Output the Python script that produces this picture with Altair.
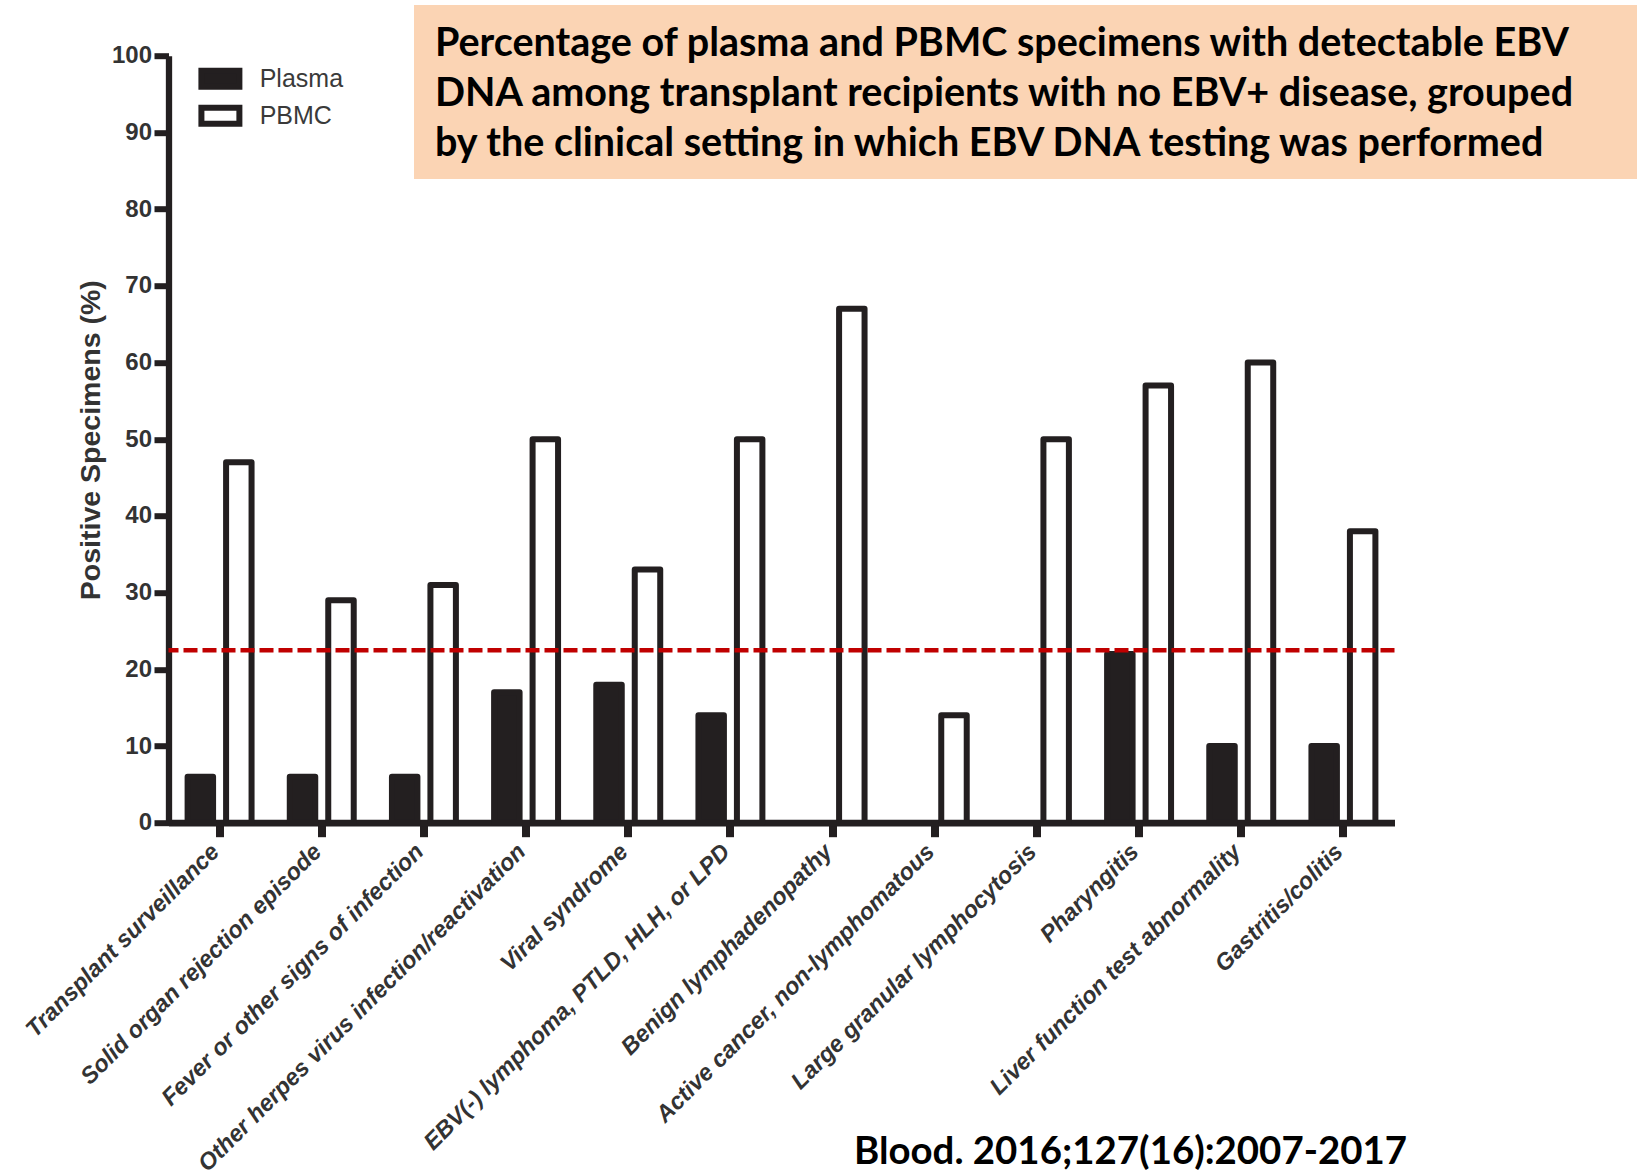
import altair as alt
import pandas as pd

# Clinical settings (x categories) and percentage of positive specimens
categories = [
    "Transplant surveillance",
    "Solid organ rejection episode",
    "Fever or other signs of infection",
    "Other herpes virus infection/reactivation",
    "Viral syndrome",
    "EBV(-) lymphoma, PTLD, HLH, or LPD",
    "Benign lymphadenopathy",
    "Active cancer, non-lymphomatous",
    "Large granular lymphocytosis",
    "Pharyngitis",
    "Liver function test abnormality",
    "Gastritis/colitis",
]
plasma = [6, 6, 6, 17, 18, 14, 0, 0, 0, 22, 10, 10]
pbmc = [47, 29, 31, 50, 33, 50, 67, 14, 50, 57, 60, 38]
series = ["Plasma", "PBMC"]
y_ticks = [0, 10, 20, 30, 40, 50, 60, 70, 80, 90, 100]
reference_level = [22.5]

title_text = (
    "Percentage of plasma and PBMC specimens with detectable EBV\n"
    "DNA among transplant recipients with no EBV+ disease, grouped\n"
    "by the clinical setting in which EBV DNA testing was performed"
)
citation = "Blood. 2016;127(16):2007-2017"

INK = "#231f20"
LABEL = "#333333"
W, H = 1226, 767
PAD_L, PAD_T = 168.5, 55.7

rows = []
for cat, p, b in zip(categories, plasma, pbmc):
    rows.append({"category": cat, "series": "Plasma", "value": p})
    rows.append({"category": cat, "series": "PBMC", "value": b})
df = pd.DataFrame(rows)

y_axis = alt.Axis(
    values=y_ticks,
    title="Positive Specimens (%)",
    titleFont="Liberation Sans",
    titleFontSize=28.5,
    titleFontWeight="bold",
    titleColor=LABEL,
    titleAngle=270,
    titleAlign="center",
    titleBaseline="alphabetic",
    titleX=-69.5,
    titleY=384,
    labelFont="Liberation Sans",
    labelFontSize=24,
    labelFontWeight="bold",
    labelColor=LABEL,
    labelPadding=2.5,
    tickSize=14.5,
    tickWidth=6,
    tickColor=INK,
    domainColor=INK,
    domainWidth=6.3,
    grid=False,
)
y_scale = alt.Scale(domain=[0, 100], nice=False)

bars = (
    alt.Chart(df)
    .transform_filter("datum.value > 0")
    .mark_bar(stroke=INK, strokeWidth=6, strokeJoin="round")
    .encode(
        x=alt.X(
            "category:N",
            sort=categories,
            scale=alt.Scale(paddingInner=0.374, paddingOuter=0.187),
            axis=alt.Axis(
                title=None,
                labelAngle=-45,
                labelAlign="right",
                labelBaseline="middle",
                labelFont="Liberation Sans",
                labelFontSize=23.5,
                labelFontWeight="bold",
                labelFontStyle="italic",
                labelColor=LABEL,
                labelLimit=0,
                labelOverlap=False,
                labelPadding=11,
                labelOffset=-4,
                tickSize=14,
                tickWidth=8,
                tickColor=INK,
                domainColor=INK,
                domainWidth=6.7,
                grid=False,
            ),
        ),
        xOffset=alt.XOffset(
            "series:N",
            sort=series,
            scale=alt.Scale(domain=series, paddingInner=0.338, paddingOuter=0),
        ),
        y=alt.Y("value:Q", scale=y_scale, axis=y_axis),
        fill=alt.Fill(
            "series:N",
            scale=alt.Scale(domain=series, range=[INK, "white"]),
            legend=alt.Legend(
                title=None,
                orient="none",
                legendX=35.9,
                legendY=7,
                padding=0,
                symbolType="M-1.5,-0.632H1.5V0.632H-1.5Z",
                symbolSize=641,
                symbolStrokeColor=INK,
                symbolStrokeWidth=6,
                symbolOffset=0,
                labelFont="Liberation Sans",
                labelFontSize=25,
                labelColor="#3a3a3a",
                labelOffset=23.3,
                rowPadding=-5.5,
            ),
        ),
    )
)

# Dashed reference level drawn across the whole plot
rule = (
    alt.Chart(pd.DataFrame({"value": reference_level}))
    .mark_rule(color="#C00000", strokeWidth=4.5, strokeDash=[14, 5], strokeCap="butt")
    .encode(y=alt.Y("value:Q", scale=y_scale, axis=y_axis))
)

box = (
    alt.Chart(pd.DataFrame({"k": [0]}))
    .mark_rect(color="#FBD4B4")
    .encode(
        x=alt.value(414 - PAD_L),
        x2=alt.value(1637 - PAD_L),
        y=alt.value(5 - PAD_T),
        y2=alt.value(179 - PAD_T),
    )
)

title = (
    alt.Chart(pd.DataFrame({"t": [title_text]}))
    .mark_text(
        font="Lato",
        fontSize=39.5,
        fontWeight="bold",
        color="black",
        align="left",
        baseline="middle",
        lineBreak="\n",
        lineHeight=50,
    )
    .encode(text="t:N", x=alt.value(435 - PAD_L), y=alt.value(44 - PAD_T))
)

cite = (
    alt.Chart(pd.DataFrame({"t": [citation]}))
    .mark_text(
        font="Lato",
        fontSize=38.4,
        fontWeight="bold",
        color="black",
        align="left",
        baseline="middle",
    )
    .encode(text="t:N", x=alt.value(854 - PAD_L), y=alt.value(1152 - PAD_T))
)

chart = (
    alt.layer(box, title, bars, rule, cite)
    .properties(
        width=W,
        height=H,
        autosize=alt.AutoSizeParams(type="none"),
        padding={"left": PAD_L, "top": PAD_T, "right": 1637 - PAD_L - W, "bottom": 1174 - PAD_T - H},
        background="white",
    )
    .configure_view(stroke=None)
)

chart.save("out.html", embed_options={"renderer": "svg", "actions": False})
